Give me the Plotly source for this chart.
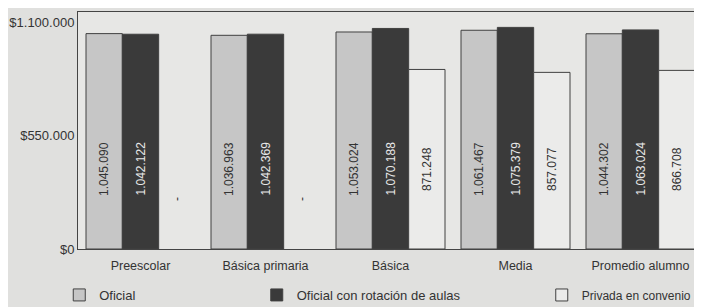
import plotly.graph_objects as go

categories = ["Preescolar", "Básica primaria", "Básica", "Media", "Promedio alumno"]
oficial = [1045090, 1036963, 1053024, 1061467, 1044302]
rotacion = [1042122, 1042369, 1070188, 1075379, 1063024]
privada = [None, None, 871248, 857077, 866708]
series_names = ["Oficial", "Oficial con rotación de aulas", "Privada en convenio"]
tick_vals = [0, 550000, 1100000]
tick_text = ["$0", "$550.000", "$1.100.000"]

def fmt(v):
    return "-" if v is None else f"{v:,}".replace(",", ".")

fig = go.Figure()
colors = ["#c6c6c6", "#3a3a3a", "#ebebea"]
legends = ["legend", "legend2", "legend3"]
data = [oficial, rotacion, privada]
for name, vals, col, lg in zip(series_names, data, colors, legends):
    fig.add_trace(go.Bar(
        x=categories, y=vals, name=name, legend=lg,
        marker=dict(color=col, line=dict(color="#404040", width=1)),
        hoverinfo="x+y",
    ))

shifts = [-36.5, 0, 36.5]
for vals, sh, tc in zip(data, shifts, ["#333333", "#e8e8e8", "#333333"]):
    for c, v in zip(categories, vals):
        fig.add_annotation(
            x=c, y=0, xref="x", yref="y", xshift=sh, yshift=80 if v is not None else 50,
            text=fmt(v), textangle=-90, showarrow=False,
            font=dict(size=12, color=tc, family="Liberation Sans, Arial"),
        )

leg_common = dict(orientation="h", y=-0.194, yanchor="middle", xanchor="left",
                  bgcolor="rgba(0,0,0,0)", itemwidth=30)
fig.update_layout(
    width=702, height=307,
    margin=dict(l=70, r=7, t=4, b=66, autoexpand=False),
    paper_bgcolor="#e0e0de", plot_bgcolor="#e7e7e5",
    barmode="group", bargap=0.128, bargroupgap=0,
    font=dict(family="Liberation Sans, Arial", size=12, color="#333333"),
    showlegend=True,
    legend=dict(x=-0.03, font=dict(size=13), **leg_common),
    legend2=dict(x=0.286, font=dict(size=13), **leg_common),
    legend3=dict(x=0.742, font=dict(size=12), **leg_common),
)
fig.update_yaxes(range=[0, 1150000], tickvals=tick_vals, ticktext=tick_text,
                 showgrid=False, showline=True, linecolor="#444444", linewidth=1,
                 mirror=True, ticks="", zeroline=False, tickfont=dict(size=13))
fig.update_xaxes(showline=True, linecolor="#444444", linewidth=1, mirror=True,
                 ticks="", tickfont=dict(size=12.5), ticklabelstandoff=5)

fig.write_html("out.html")
